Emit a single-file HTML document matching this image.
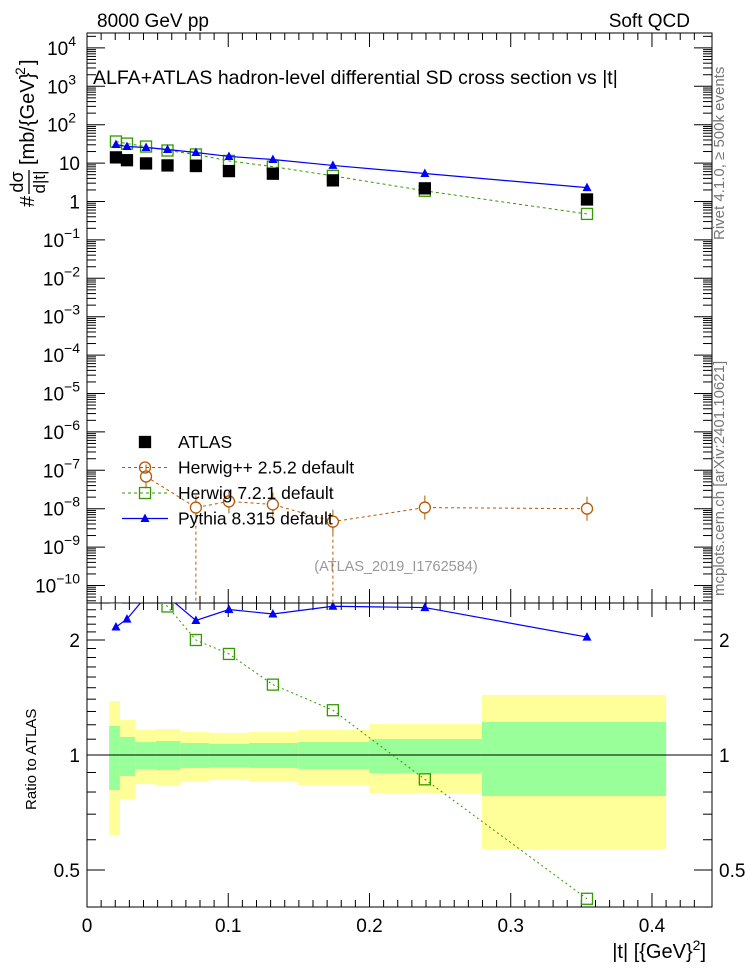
<!DOCTYPE html>
<html><head><meta charset="utf-8"><style>
html,body{margin:0;padding:0;background:#fff;}
svg{display:block;font-family:"Liberation Sans",sans-serif;}
</style></head><body>
<svg id="chart" width="746" height="972" viewBox="0 0 746 972" xmlns="http://www.w3.org/2000/svg">
<text x="97" y="27" font-size="19">8000 GeV pp</text>
<text x="690" y="27" font-size="19" text-anchor="end">Soft QCD</text>
<text x="93" y="84" font-size="19.5">ALFA+ATLAS hadron-level differential SD cross section vs |t|</text>
<text transform="translate(724,240) rotate(-90)" font-size="15" fill="#777">Rivet 4.1.0, ≥ 500k events</text>
<text transform="translate(724,596) rotate(-90)" font-size="15" fill="#777">mcplots.cern.ch [arXiv:2401.10621]</text>
<g transform="translate(34,207) rotate(-90)">
<text x="0" y="0" font-size="20">#</text>
<text x="25" y="-11" font-size="18" text-anchor="middle">dσ</text>
<line x1="13" y1="-5" x2="37" y2="-5" stroke="#000" stroke-width="1.3"/>
<text x="25" y="11" font-size="17" text-anchor="middle">d|t|</text>
<text x="42" y="0" font-size="20">[mb/{GeV}</text>
<text x="132" y="-9" font-size="14">2</text>
<text x="142" y="0" font-size="20">]</text>
</g>
<text transform="translate(36,810) rotate(-90)" font-size="15">Ratio to ATLAS</text>
<text x="706" y="958" font-size="20" text-anchor="end">|t| [{GeV}<tspan dy="-8" font-size="14">2</tspan><tspan dy="8">]</tspan></text>
<text x="396" y="571" font-size="14.5" fill="#999" text-anchor="middle">(ATLAS_2019_I1762584)</text>
<g id="main"></g>
</svg>
<script>
const xVals=[0.0205,0.0283,0.0418,0.057,0.0771,0.1005,0.1316,0.1741,0.2392,0.354];
const binEdges=[0.0157,0.0233,0.0341,0.0487,0.0663,0.0866,0.1148,0.1495,0.1999,0.2795,0.41];
const atlas=[14.1,11.9,9.8,8.7,8.4,6.2,5.3,3.55,2.2,1.13];
const pythia=[30.5,27,25.5,22.6,18.9,14.9,12.4,8.7,5.35,2.3];
const herwig7=[36.5,32.2,27,21.3,16.8,11.4,8.1,4.65,1.9,0.475];
const herwigpp=[null,null,6.9e-8,null,1.07e-8,1.55e-8,1.29e-8,4.6e-9,1.07e-8,1.0e-8];
const yellowHi=[1.385,1.235,1.163,1.169,1.149,1.143,1.149,1.163,1.205,1.436];
const greenHi=[1.191,1.115,1.081,1.088,1.075,1.069,1.075,1.081,1.101,1.22];
const greenLo=[0.81,0.881,0.919,0.913,0.925,0.93,0.925,0.919,0.897,0.781];
const yellowLo=[0.617,0.767,0.839,0.829,0.85,0.86,0.85,0.834,0.795,0.567];
const xTicks=[0,0.1,0.2,0.3,0.4];
const xTickLabels=["0","0.1","0.2","0.3","0.4"];
const yExps=[4,3,2,1,0,-1,-2,-3,-4,-5,-6,-7,-8,-9,-10];
const rTicks=[0.5,1,2];
const rTickLabels=["0.5","1","2"];

const NS="http://www.w3.org/2000/svg";
const L=87,R=712,T=33,MB=603,RB=907;
const X=v=>L+(v/0.4425)*(R-L);
const Y=v=>201.5-38.4*Math.log10(v);
const RY=v=>755-115*Math.log2(v);
const g=document.getElementById('main');
function el(tag,attrs,parent){const e=document.createElementNS(NS,tag);for(const k in attrs)e.setAttribute(k,attrs[k]);(parent||g).appendChild(e);return e;}
const defs=el('defs',{});
const cp1=el('clipPath',{id:'c1'},defs);el('rect',{x:L,y:T,width:R-L,height:MB-T},cp1);
const cp2=el('clipPath',{id:'c2'},defs);el('rect',{x:L,y:MB,width:R-L,height:RB-MB},cp2);

const bands=el('g',{'clip-path':'url(#c2)'});


for(let i=0;i<xVals.length;i++){
  const x1=X(binEdges[i]),x2=X(binEdges[i+1]);
  const y=el('rect',{x:x1,y:RY(yellowHi[i]),width:x2-x1,height:RY(yellowLo[i])-RY(yellowHi[i]),fill:'#ffff99'},bands);
  
  
  const gr=el('rect',{x:x1,y:RY(greenHi[i]),width:x2-x1,height:RY(greenLo[i])-RY(greenHi[i]),fill:'#99ff99'},bands);
  
  
}
el('line',{x1:L,y1:RY(1),x2:R,y2:RY(1),stroke:'#000','stroke-width':1});

el('rect',{x:L,y:T,width:R-L,height:MB-T,fill:'none',stroke:'#000','stroke-width':1});
el('rect',{x:L,y:MB,width:R-L,height:RB-MB,fill:'none',stroke:'#000','stroke-width':1});

for(let v=0;v<=0.44;v+=0.01){
  const vv=Math.round(v*100)/100;const major=Math.abs(vv*10-Math.round(vv*10))<1e-6;const len=major?14:7;const x=X(vv);
  [[T,1],[MB,-1],[MB,1],[RB,-1]].forEach(([y0,d])=>el('line',{x1:x,y1:y0,x2:x,y2:y0+d*len,stroke:'#000','stroke-width':1}));
}
xTicks.forEach((v,i)=>{const t=el('text',{x:X(v),y:932,'font-size':19,'text-anchor':'middle'});t.textContent=xTickLabels[i];

});

yExps.forEach(e=>{
  const y=Y(Math.pow(10,e));
  el('line',{x1:L,y1:y,x2:L+18,y2:y,stroke:'#000'});el('line',{x1:R,y1:y,x2:R-18,y2:y,stroke:'#000'});
  for(let m=2;m<=9;m++){const ym=Y(m*Math.pow(10,e));if(ym<T)continue;el('line',{x1:L,y1:ym,x2:L+9,y2:ym,stroke:'#000'});el('line',{x1:R,y1:ym,x2:R-9,y2:ym,stroke:'#000'});}
  const t=el('text',{x:80,y:y+7,'font-size':19,'text-anchor':'end'});
  
  
  if(e===0)t.textContent='1';else if(e===1)t.textContent='10';
  else{const a=document.createElementNS(NS,'tspan');a.textContent='10';t.appendChild(a);const b=document.createElementNS(NS,'tspan');b.setAttribute('dy','-9');b.setAttribute('font-size','14');b.textContent=String(e).replace('-','−');t.appendChild(b);t.setAttribute('x',e<0?80:76);}
});
for(let m=1;m<=9;m++){const ym=Y(m*1e-11);if(ym<=MB){el('line',{x1:L,y1:ym,x2:L+9,y2:ym,stroke:'#000'});el('line',{x1:R,y1:ym,x2:R-9,y2:ym,stroke:'#000'});}}

[0.4,0.5,0.6,0.7,0.8,0.9,1,1.1,1.2,1.3,1.4,1.5,1.6,1.7,1.8,1.9,2,2.1,2.2,2.3,2.4,2.5].forEach(v=>{
  const y=RY(v);const major=rTicks.includes(v);const len=major?18:9;
  el('line',{x1:L,y1:y,x2:L+len,y2:y,stroke:'#000'});el('line',{x1:R,y1:y,x2:R-len,y2:y,stroke:'#000'});
});
rTicks.forEach((v,i)=>{
  const t=el('text',{x:80,y:RY(v)+7,'font-size':19,'text-anchor':'end'});t.textContent=rTickLabels[i];
  
  
  const t2=el('text',{x:719,y:RY(v)+7,'font-size':19});t2.textContent=rTickLabels[i];
  
  
});

function tri(parent,x,y,c){return el('polygon',{points:`${x},${y-5} ${x-4.5},${y+3.5} ${x+4.5},${y+3.5}`,fill:c},parent);}
function sq(parent,x,y,c,fill){return el('rect',{x:x-5.5,y:y-5.5,width:11,height:11,fill:fill?c:'none',stroke:c,'stroke-width':1.3},parent);}

const mg=el('g',{'clip-path':'url(#c1)'});
const hpg=el('g',{},mg);


let pts=[];herwigpp.forEach((v,i)=>{if(v!==null)pts.push([X(xVals[i]),Y(v)]);});
el('polyline',{points:pts.map(p=>p.join(',')).join(' '),fill:'none',stroke:'#b35900','stroke-width':1,'stroke-dasharray':'3,3'},hpg);
[4,7].forEach(i=>el('line',{x1:X(xVals[i]),y1:Y(herwigpp[i]),x2:X(xVals[i]),y2:MB,stroke:'#b35900','stroke-dasharray':'3,3'},hpg));
herwigpp.forEach((v,i)=>{if(v===null)return;const x=X(xVals[i]),y=Y(v);
  el('line',{x1:x,y1:y-12,x2:x,y2:y+12,stroke:'#b35900'},hpg);
  const c=el('circle',{cx:x,cy:y,r:5.5,fill:'#fff',stroke:'#b35900','stroke-width':1.3},hpg);
  
  });
const h7g=el('g',{},mg);


el('polyline',{points:herwig7.map((v,i)=>X(xVals[i])+','+Y(v)).join(' '),fill:'none',stroke:'#339900','stroke-dasharray':'3,3'},h7g);
herwig7.forEach((v,i)=>{const s=sq(h7g,X(xVals[i]),Y(v),'#339900',false);
  
  });
const ag=el('g',{},mg);


atlas.forEach((v,i)=>{const s=sq(ag,X(xVals[i]),Y(v),'#000',true);
  
  });
const pg=el('g',{},mg);


el('polyline',{points:pythia.map((v,i)=>X(xVals[i])+','+Y(v)).join(' '),fill:'none',stroke:'#0000ff','stroke-width':1.2},pg);
pythia.forEach((v,i)=>{const t=tri(pg,X(xVals[i]),Y(v),'#0000ff');
  
  });

const rg=el('g',{'clip-path':'url(#c2)'});
const rh7=el('g',{},rg);


el('polyline',{points:herwig7.map((v,i)=>X(xVals[i])+','+RY(v/atlas[i])).join(' '),fill:'none',stroke:'#339900','stroke-dasharray':'2,3'},rh7);
herwig7.forEach((v,i)=>{sq(rh7,X(xVals[i]),RY(v/atlas[i]),'#339900',false);});
const rp=el('g',{},rg);


el('polyline',{points:pythia.map((v,i)=>X(xVals[i])+','+RY(v/atlas[i])).join(' '),fill:'none',stroke:'#0000ff','stroke-width':1.2},rp);
pythia.forEach((v,i)=>{tri(rp,X(xVals[i]),RY(v/atlas[i]),'#0000ff');});

const lg=el('g',{});


const entries=[['ATLAS','atlas'],['Herwig++ 2.5.2 default','herwigpp'],['Herwig 7.2.1 default','herwig7'],['Pythia 8.315 default','pythia']];
entries.forEach((e,k)=>{
  const y=442+k*25.5;const eg=el('g',{},lg);
  
  
  if(e[1]==='atlas')sq(eg,145,y,'#000',true);
  if(e[1]==='herwigpp'){el('line',{x1:122,y1:y,x2:168,y2:y,stroke:'#b35900','stroke-dasharray':'3,3'},eg);el('circle',{cx:145,cy:y,r:5.5,fill:'none',stroke:'#b35900','stroke-width':1.3},eg);}
  if(e[1]==='herwig7'){el('line',{x1:122,y1:y,x2:168,y2:y,stroke:'#339900','stroke-dasharray':'3,3'},eg);sq(eg,145,y,'#339900',false);}
  if(e[1]==='pythia'){el('line',{x1:122,y1:y,x2:168,y2:y,stroke:'#0000ff','stroke-width':1.2},eg);tri(eg,145,y,'#0000ff');}
  const t=el('text',{x:178,y:y+6,'font-size':17.5},eg);t.textContent=e[0];
});
</script>
</body></html>
